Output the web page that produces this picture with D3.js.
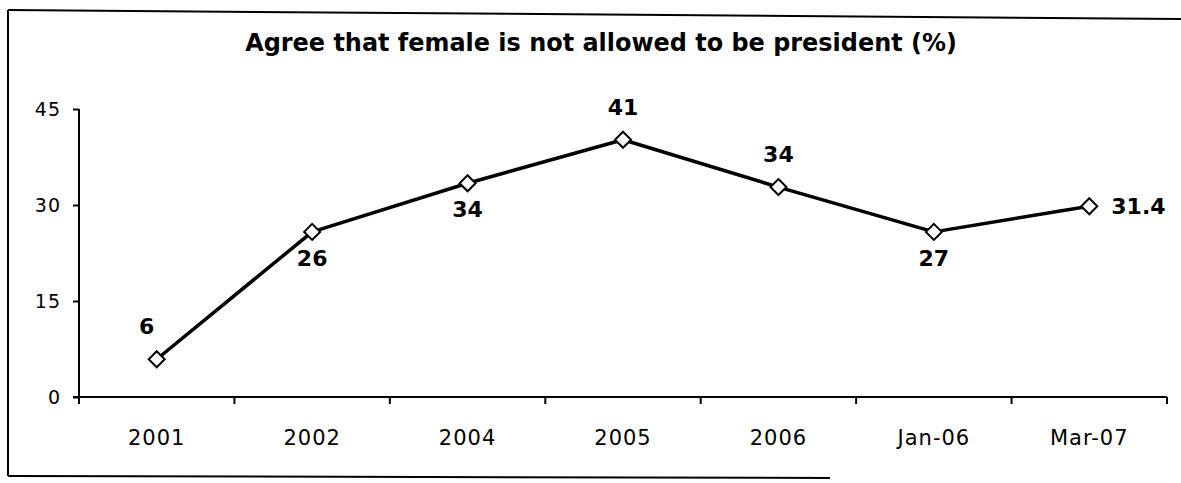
<!DOCTYPE html>
<html>
<head>
<meta charset="utf-8">
<script src="https://cdn.jsdelivr.net/npm/d3@7"></script>
<style>
  html, body { margin: 0; padding: 0; background: #fff; }
  svg { display: block; }
  text { font-family: "DejaVu Sans", Verdana, sans-serif; fill: #000; }
</style>
</head>
<body>
<svg id="chart" width="1181" height="483"></svg>
<script>
const title = "Agree that female is not allowed to be president (%)";
const categories = ["2001", "2002", "2004", "2005", "2006", "Jan-06", "Mar-07"];
const values = [5.9, 25.8, 33.4, 40.2, 32.8, 25.8, 29.8];
const valueLabels = ["6", "26", "34", "41", "34", "27", "31.4"];
const labelPlacement = ["above", "below", "below", "above", "above", "below", "right"];
const yTicks = [0, 15, 30, 45];

(function () {
const svg = d3.select("#chart");
const W = 1181, H = 483;
svg.append("rect").attr("width", W).attr("height", H).attr("fill", "#fff");

// outer frame (scanned, partial)
const frame = svg.append("g").attr("stroke", "#000").attr("fill", "none");
frame.append("line").attr("x1", 8).attr("y1", 10).attr("x2", 1181).attr("y2", 19).attr("stroke-width", 2);
frame.append("line").attr("x1", 8).attr("y1", 10).attr("x2", 8).attr("y2", 476).attr("stroke-width", 2);
frame.append("line").attr("x1", 8).attr("y1", 476).attr("x2", 830).attr("y2", 478).attr("stroke-width", 2);

const mLeft = 79, mRight = 1167, mTop = 109, mBottom = 397;

const x = d3.scaleBand().domain(categories).range([mLeft, mRight]).padding(0);
const y = d3.scaleLinear().domain([0, 45]).range([mBottom, mTop]);

// title
const t = svg.append("text")
  .attr("x", 601).attr("y", 51)
  .attr("text-anchor", "middle")
  .attr("font-weight", "bold")
  .attr("font-size", 20)
  .text(title);
const tw = t.node().getComputedTextLength();
t.attr("font-size", 20 * 712 / tw);

// y axis
const yAxis = d3.axisLeft(y).tickValues(yTicks).tickSize(6).tickPadding(12);
const gy = svg.append("g").attr("transform", `translate(${mLeft},0)`).call(yAxis);
gy.select(".domain").attr("stroke", "#000").attr("stroke-width", 2)
  .attr("d", `M0,${mTop}V${mBottom + 7}`);
gy.selectAll(".tick line").attr("stroke", "#000").attr("stroke-width", 2);
gy.selectAll(".tick text").attr("font-size", 19).attr("letter-spacing", 1)
  .attr("font-family", "DejaVu Sans, Verdana, sans-serif").attr("fill", "#000");

// x axis
const gx = svg.append("g").attr("transform", `translate(0,${mBottom})`);
gx.append("line").attr("x1", mLeft - 6).attr("x2", mRight).attr("y1", 0).attr("y2", 0)
  .attr("stroke", "#000").attr("stroke-width", 2);
const boundaries = categories.map(c => x(c)).concat([x(categories[categories.length - 1]) + x.bandwidth()]);
gx.selectAll("line.tk").data(boundaries).enter().append("line")
  .attr("class", "tk")
  .attr("x1", d => d).attr("x2", d => d)
  .attr("y1", 0).attr("y2", 7)
  .attr("stroke", "#000").attr("stroke-width", 2);
gx.selectAll("text").data(categories).enter().append("text")
  .attr("x", d => x(d) + x.bandwidth() / 2)
  .attr("y", 48)
  .attr("text-anchor", "middle")
  .attr("font-size", 21)
  .attr("letter-spacing", 1)
  .text(d => d);

// line
const cx = (d, i) => x(categories[i]) + x.bandwidth() / 2;
const line = d3.line().x((d, i) => cx(d, i)).y(d => y(d));
svg.append("path").datum(values)
  .attr("d", line)
  .attr("fill", "none")
  .attr("stroke", "#000")
  .attr("stroke-width", 3.5)
  .attr("stroke-linejoin", "round");

// diamond markers
const s = 8;
svg.selectAll("path.mk").data(values).enter().append("path")
  .attr("class", "mk")
  .attr("d", (d, i) => {
    const px = cx(d, i), py = y(d);
    return `M${px},${py - s}L${px + s},${py}L${px},${py + s}L${px - s},${py}Z`;
  })
  .attr("fill", "#fff")
  .attr("stroke", "#000")
  .attr("stroke-width", 2);

// value labels
svg.selectAll("text.vl").data(values).enter().append("text")
  .attr("class", "vl")
  .attr("font-weight", "bold")
  .attr("font-size", 22)
  .attr("text-anchor", (d, i) => labelPlacement[i] === "right" ? "start" : "middle")
  .attr("x", (d, i) => {
    const p = labelPlacement[i];
    if (p === "right") return cx(d, i) + 22;
    if (i === 0) return cx(d, i) - 10;
    return cx(d, i);
  })
  .attr("y", (d, i) => {
    const p = labelPlacement[i];
    if (p === "above") return y(d) - 25;
    if (p === "below") return y(d) + 34;
    return y(d) + 8;
  })
  .text((d, i) => valueLabels[i]);
})();
</script>
</body>
</html>
